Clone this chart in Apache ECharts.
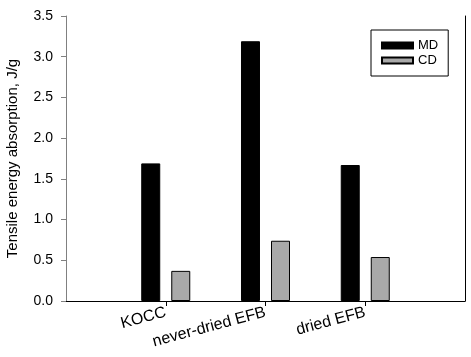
<!DOCTYPE html>
<html>
<head>
<meta charset="utf-8">
<script src="https://cdn.jsdelivr.net/npm/echarts@6/dist/echarts.min.js"></script>
<style>html,body{margin:0;padding:0;background:#fff;}#c{width:471px;height:357px;}</style>
</head>
<body>
<div id="c"></div>
<script>
var categories = ['', 'KOCC', 'never-dried EFB', 'dried EFB', ''];
var mdValues = [null, 1.69, 3.19, 1.67, null];
var cdValues = [null, 0.37, 0.74, 0.54, null];
var seriesNames = ['MD', 'CD'];
var yTicks = [0, 0.5, 1.0, 1.5, 2.0, 2.5, 3.0, 3.5];

var font = 'Liberation Sans, Arial, sans-serif';
var chart = echarts.init(document.getElementById('c'), null, {renderer: 'canvas'});
chart.setOption({
  animation: false,
  backgroundColor: '#fff',
  grid: {left: 66, top: 16, right: 6, bottom: 56, containLabel: false, outerBoundsMode: 'none'},
  legend: {
    data: seriesNames,
    left: 371, top: 30,
    orient: 'vertical',
    icon: 'rect',
    itemWidth: 31, itemHeight: 6, itemGap: 2,
    padding: [9, 10],
    borderColor: '#000', borderWidth: 1,
    textStyle: {fontFamily: font, fontSize: 13, color: '#000'}
  },
  xAxis: [{
    type: 'category',
    data: categories,
    boundaryGap: false,
    axisLine: {lineStyle: {color: '#808080', width: 1}},
    axisTick: {length: 5, lineStyle: {color: '#000'}, interval: function (i) { return i > 0 && i < categories.length - 1; }},
    axisLabel: {rotate: 15, margin: 11, fontFamily: font, fontSize: 16, color: '#000', interval: 0},
    splitLine: {show: false}
  }, {
    type: 'category', position: 'top', data: categories, boundaryGap: false,
    axisLine: {show: true, lineStyle: {color: '#000'}}, axisTick: {show: false}, axisLabel: {show: false}
  }],
  yAxis: [{
    type: 'value',
    min: yTicks[0], max: yTicks[yTicks.length - 1], interval: 0.5,
    name: 'Tensile energy absorption, J/g',
    nameLocation: 'middle', nameGap: 46,
    nameTextStyle: {fontFamily: font, fontSize: 15, color: '#000'},
    axisLine: {show: true, lineStyle: {color: '#808080'}},
    axisTick: {show: true, length: 5, lineStyle: {color: '#808080'}},
    axisLabel: {margin: 13, fontFamily: font, fontSize: 14, color: '#000', formatter: function (v) { return v.toFixed(1); }},
    splitLine: {show: false}
  }, {
    type: 'value', position: 'right', min: 0, max: 3.5, interval: 0.5,
    axisLine: {show: true, lineStyle: {color: '#000'}}, axisTick: {show: false}, axisLabel: {show: false}, splitLine: {show: false}
  }],
  series: [{
    name: seriesNames[0], type: 'bar', data: mdValues,
    barWidth: 19, barGap: '58%',
    itemStyle: {color: '#000', borderColor: '#000', borderWidth: 1}
  }, {
    name: seriesNames[1], type: 'bar', data: cdValues,
    barWidth: 19, barGap: '58%',
    itemStyle: {color: '#a9a9a9', borderColor: '#000', borderWidth: 1}
  }]
});
</script>
</body>
</html>
